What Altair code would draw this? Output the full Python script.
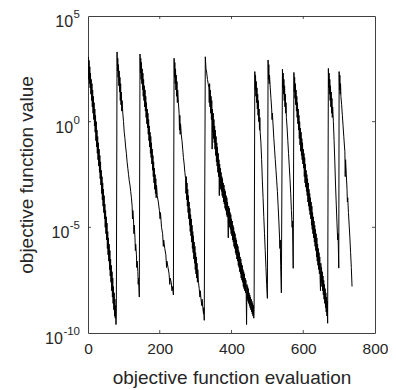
import altair as alt
import pandas as pd

# [evaluation, log10(objective value)] for each restart
seg1 = [[1,3.07],[2,2.0],[3,2.9],[4,1.8],[5,2.6],[6,1.6],[7,2.3],[8,1.3],[9,2.0],[10,1.0],[11,1.8],[12,0.7],[13,1.5],[14,0.4],[15,1.2],[16,0.1],[17,0.9],[18,-0.2],[19,0.6],[20,-0.5],[21,0.3],[22,-0.9],[23,0.0],[24,-1.2],[25,-0.4],[26,-1.5],[27,-0.7],[28,-1.8],[29,-1.0],[30,-2.1],[31,-1.3],[32,-2.4],[33,-1.6],[34,-2.7],[35,-1.9],[36,-3.0],[37,-2.3],[38,-3.4],[39,-2.6],[40,-3.7],[41,-2.9],[42,-4.0],[43,-3.2],[44,-4.3],[45,-3.5],[46,-4.6],[47,-3.9],[48,-5.0],[49,-4.2],[50,-5.3],[51,-4.5],[52,-5.6],[53,-4.8],[54,-6.0],[55,-5.2],[56,-6.3],[57,-5.5],[58,-6.6],[59,-5.8],[60,-7.0],[61,-6.1],[62,-7.3],[63,-6.5],[64,-7.6],[65,-6.8],[66,-8.0],[67,-7.1],[68,-8.3],[69,-7.4],[70,-8.6],[71,-7.8],[72,-8.9],[73,-8.1],[74,-9.2],[75,-8.4],[76,-9.3],[77,-8.7],[78,-9.6],[79,-9.0]]
seg2 = [[81,3.3],[82,2.4],[83,3.0],[84,2.1],[85,2.7],[86,1.7],[87,2.4],[88,1.4],[89,2.1],[90,1.0],[91,1.8],[92,0.8],[93,1.4],[94,0.5],[95,1.0],[97,0.4],[99,0.0],[101,-0.5],[103,-0.8],[105,-1.2],[107,-1.5],[109,-1.9],[111,-2.2],[113,-2.5],[115,-2.8],[117,-3.0],[119,-3.3],[121,-3.6],[123,-4.0],[124,-4.6],[125,-4.2],[127,-4.7],[128,-5.3],[129,-4.9],[131,-5.5],[132,-6.1],[133,-5.8],[135,-6.3],[136,-6.9],[137,-6.6],[139,-7.1],[140,-7.7],[141,-7.4],[143,-8.3]]
seg3 = [[145,3.2],[146,2.3],[147,3.0],[148,2.0],[149,2.8],[150,1.8],[151,2.5],[152,1.5],[153,2.3],[154,1.2],[155,2.0],[156,1.0],[157,1.7],[158,0.7],[159,1.5],[160,0.5],[161,1.2],[162,0.2],[163,0.9],[164,-0.1],[165,0.6],[166,-0.3],[167,0.4],[168,-0.6],[169,0.1],[170,-0.9],[171,-0.2],[172,-1.2],[173,-0.5],[174,-1.5],[175,-0.7],[176,-1.7],[177,-1.0],[178,-2.0],[179,-1.3],[180,-2.3],[181,-1.6],[182,-2.6],[183,-1.9],[184,-2.9],[185,-2.2],[186,-3.2],[187,-2.5],[188,-3.4],[189,-2.7],[190,-3.6],[191,-3.0],[193,-3.5],[196,-3.8],[199,-4.2],[201,-4.6],[202,-4.3],[205,-5.0],[208,-5.3],[210,-5.9],[211,-5.6],[214,-6.0],[217,-6.3],[219,-6.9],[220,-6.6],[223,-6.9],[226,-7.2],[228,-7.7],[229,-7.4],[232,-7.6],[234,-8.0],[236,-7.8],[238,-8.2]]
seg4 = [[240,3.0],[241,2.1],[242,2.8],[243,1.8],[244,2.5],[245,1.5],[246,2.2],[247,1.2],[248,1.9],[249,0.9],[250,1.5],[252,0.9],[254,0.4],[255,-0.4],[256,0.3],[257,-0.6],[258,-0.1],[260,-0.6],[262,-0.9],[264,-1.3],[266,-1.7],[268,-2.0],[270,-2.4],[272,-2.7],[273,-3.4],[274,-2.6],[275,-3.7],[276,-2.9],[277,-4.0],[278,-3.2],[279,-4.3],[280,-3.5],[281,-4.6],[282,-3.8],[283,-4.9],[284,-4.1],[285,-5.2],[286,-4.4],[287,-5.4],[288,-4.6],[289,-5.7],[290,-4.9],[291,-6.0],[292,-5.2],[293,-6.2],[294,-5.4],[295,-6.5],[296,-5.7],[297,-6.7],[298,-5.9],[299,-7.0],[300,-6.2],[301,-7.2],[302,-6.4],[303,-7.4],[304,-6.7],[305,-7.6],[306,-7.0],[308,-7.6],[310,-7.9],[312,-8.3],[313,-8.0],[315,-8.4],[317,-8.7],[318,-8.4],[320,-8.8],[322,-9.1],[323,-8.8],[324,-9.4]]
seg5 = [[327,3.07],[329,2.5],[331,2.3],[333,2.0],[335,1.8],[337,1.6],[338,0.9],[339,1.8],[340,0.7],[341,1.5],[342,0.4],[343,1.2],[344,0.1],[345,1.0],[346,-1.3],[347,0.6],[348,-0.5],[349,0.4],[350,-0.8],[351,0.1],[352,-1.0],[353,-0.2],[354,-1.3],[355,-0.4],[356,-1.6],[357,-0.7],[358,-1.9],[359,-1.0],[360,-2.1],[361,-1.2],[362,-2.4],[363,-1.5],[364,-2.6],[365,-1.8],[366,-3.5],[367,-2.0],[368,-3.0],[369,-2.2],[370,-3.2],[371,-2.4],[372,-3.3],[373,-2.6],[374,-3.5],[375,-2.7],[376,-3.6],[377,-2.9],[378,-3.8],[379,-3.0],[380,-3.9],[381,-3.2],[382,-4.1],[383,-3.3],[384,-4.2],[385,-3.5],[386,-4.4],[387,-3.6],[388,-4.5],[389,-3.8],[390,-4.6],[391,-5.5],[392,-4.0],[393,-4.8],[394,-4.1],[395,-5.0],[396,-4.3],[397,-5.1],[398,-4.4],[399,-5.3],[400,-4.6],[401,-5.4],[402,-4.7],[403,-5.6],[404,-4.9],[405,-5.7],[406,-5.0],[407,-5.9],[408,-5.2],[409,-6.0],[410,-5.3],[411,-6.2],[412,-5.5],[413,-6.3],[414,-5.6],[415,-6.5],[416,-5.8],[417,-6.6],[418,-5.9],[419,-6.8],[420,-6.1],[421,-6.9],[422,-6.2],[423,-7.1],[424,-6.4],[425,-7.2],[426,-6.5],[427,-7.4],[428,-6.7],[429,-7.5],[430,-6.8],[431,-7.6],[432,-7.0],[433,-7.8],[434,-7.1],[435,-7.9],[436,-7.2],[437,-8.0],[438,-7.4],[439,-8.1],[440,-7.5],[441,-8.2],[442,-9.6],[443,-7.7],[444,-8.4],[445,-7.8],[446,-8.5],[447,-7.9],[448,-8.6],[449,-8.1],[450,-8.7],[451,-8.2],[452,-8.8],[453,-8.3],[454,-8.9],[455,-8.4],[456,-9.0],[457,-8.5],[458,-9.1],[459,-8.6],[460,-9.2],[461,-8.7],[462,-9.3],[463,-8.9]]
seg6 = [[465,2.37],[466,1.5],[467,2.2],[468,1.2],[469,1.9],[470,0.9],[471,1.6],[472,0.6],[473,1.3],[474,0.3],[475,1.0],[476,0.0],[477,0.6],[478,-0.4],[479,0.2],[480,-0.5],[482,-1.0],[484,-1.8],[486,-2.8],[488,-3.6],[490,-4.5],[492,-5.3],[494,-6.1],[496,-6.9],[498,-7.7],[500,-8.36]]
seg7 = [[502,2.92],[503,2.0],[504,2.7],[505,1.8],[506,2.2],[508,1.6],[510,1.1],[512,0.6],[513,0.1],[514,0.4],[516,-0.2],[518,-0.8],[520,-1.3],[522,-1.8],[524,-2.3],[526,-2.8],[528,-3.3],[530,-4.0],[532,-4.7],[534,-5.5],[535,-6.0],[536,-5.6],[537,-6.8],[539,-8.1]]
seg8 = [[542,2.48],[543,1.6],[544,2.3],[545,1.3],[546,2.0],[547,1.0],[548,1.7],[549,0.7],[550,1.3],[551,0.4],[552,0.9],[553,0.2],[555,-0.3],[557,-0.9],[559,-1.5],[561,-2.1],[563,-2.7],[565,-3.4],[567,-4.2],[569,-5.0],[570,-4.7],[571,-5.9],[572,-6.94]]
seg9 = [[574,2.33],[575,1.4],[576,2.1],[577,1.1],[578,1.8],[579,0.8],[580,1.5],[581,0.5],[582,1.2],[583,0.2],[584,0.9],[585,-0.1],[586,0.6],[587,-0.4],[588,0.3],[589,-0.8],[590,0.0],[591,-1.1],[592,-0.3],[593,-1.4],[594,-0.5],[595,-1.6],[596,-0.8],[597,-1.8],[598,-1.0],[599,-2.0],[600,-1.3],[601,-2.2],[602,-1.5],[603,-2.6],[604,-1.7],[605,-2.9],[606,-2.0],[607,-3.1],[608,-2.3],[609,-3.3],[610,-2.5],[611,-3.5],[612,-2.7],[613,-3.8],[614,-2.9],[615,-4.0],[616,-3.2],[617,-4.2],[618,-3.4],[619,-4.4],[620,-3.6],[621,-4.6],[622,-3.8],[623,-4.9],[624,-4.0],[625,-5.1],[626,-4.3],[627,-5.3],[628,-4.5],[629,-5.5],[630,-4.7],[631,-5.7],[632,-4.9],[633,-5.9],[634,-5.1],[635,-6.1],[636,-5.3],[637,-6.4],[638,-5.5],[639,-6.6],[640,-5.8],[641,-6.8],[642,-6.0],[643,-7.0],[644,-6.2],[645,-7.2],[646,-6.4],[647,-7.4],[648,-8.0],[649,-6.7],[650,-7.6],[651,-6.9],[652,-7.8],[653,-7.1],[654,-8.0],[655,-7.3],[656,-8.2],[657,-7.5],[658,-8.4],[659,-7.7],[660,-8.6],[661,-7.9],[662,-8.8],[663,-8.1],[664,-9.0],[665,-8.3],[666,-9.2],[667,-8.5],[668,-9.54]]
seg10 = [[670,2.52],[671,1.6],[672,2.3],[673,1.3],[674,2.0],[675,1.0],[676,1.7],[677,0.7],[678,1.4],[679,0.4],[680,1.1],[681,0.2],[682,0.7],[684,0.0],[686,-0.9],[688,-1.9],[690,-3.0],[692,-3.9],[694,-4.8],[696,-5.6],[697,-5.3],[699,-6.93]]
seg11 = [[700,2.37],[701,1.5],[702,2.2],[703,1.3],[704,1.8],[705,1.2],[707,0.8],[709,0.3],[711,-0.2],[713,-0.7],[715,-1.2],[716,-1.4],[717,-2.6],[718,-1.8],[720,-2.5],[722,-3.2],[723,-3.8],[724,-3.6],[726,-4.3],[728,-4.9],[730,-5.5],[732,-6.2],[734,-6.9],[736,-7.8]]

x_ticks = [0, 200, 400, 600, 800]
y_ticks = [1e-10, 1e-5, 1, 1e5]
y_tick_exponents = ["-10", "-5", "0", "5"]

rows = []
for seg in [seg1, seg2, seg3, seg4, seg5, seg6, seg7, seg8, seg9, seg10, seg11]:
    for ev, lg in seg:
        rows.append({"x": ev, "y": 10.0 ** lg})
df = pd.DataFrame(rows)

W, H = 287, 317
FONT = "Liberation Sans"
AX = "#262626"
BASE_FS = 16
SUP_FS = 11.5

xscale = alt.Scale(domain=[0, 800], nice=False, zero=False)
yscale = alt.Scale(type="log", domain=[1e-10, 1e5], nice=False)

line = alt.Chart(df).mark_line(color="black", strokeWidth=1, clip=True).encode(
    x=alt.X("x:Q", scale=xscale, axis=alt.Axis(
        values=x_ticks, title="objective function evaluation", tickSize=0,
        domain=False, grid=False, labelFontSize=15.5, labelColor=AX, labelPadding=8,
        titleFontSize=19, titleFontWeight="normal", titleColor=AX, titlePadding=12,
        labelFont=FONT, titleFont=FONT, labelFlush=False)),
    y=alt.Y("y:Q", scale=yscale, axis=alt.Axis(
        values=y_ticks, title="objective function value", tickSize=0,
        domain=False, grid=False, labels=False, titleFontSize=19,
        titleFontWeight="normal", titleColor=AX, titlePadding=51, titleFont=FONT)),
    order="x:Q",
)

xt = pd.DataFrame({"x": x_ticks[1:-1]})
yt = pd.DataFrame({"y": y_ticks[1:-1]})

xb = alt.Chart(xt).mark_rule(color=AX, strokeWidth=0.8).encode(
    x=alt.X("x:Q", scale=xscale), y=alt.value(H), y2=alt.value(H - 3))
xtop = alt.Chart(xt).mark_rule(color=AX, strokeWidth=0.8).encode(
    x=alt.X("x:Q", scale=xscale), y=alt.value(0), y2=alt.value(3))
yl = alt.Chart(yt).mark_rule(color=AX, strokeWidth=0.8).encode(
    y=alt.Y("y:Q", scale=yscale), x=alt.value(0), x2=alt.value(3))
yr = alt.Chart(yt).mark_rule(color=AX, strokeWidth=0.8).encode(
    y=alt.Y("y:Q", scale=yscale), x=alt.value(W), x2=alt.value(W - 3))

# y tick labels as "10" + raised exponent
label_layers = []
for val, ex in zip(y_ticks, y_tick_exponents):
    ld = pd.DataFrame({"y": [val], "base": ["10"], "sup": [ex]})
    sup_w = sum(0.333 * SUP_FS if c == "-" else 0.556 * SUP_FS for c in ex)
    sup_layer = alt.Chart(ld).mark_text(
        align="right", baseline="alphabetic", font=FONT, fontSize=SUP_FS,
        color=AX, dy=2).encode(
        y=alt.Y("y:Q", scale=yscale), x=alt.value(-8), text="sup:N")
    base_layer = alt.Chart(ld).mark_text(
        align="right", baseline="alphabetic", font=FONT, fontSize=BASE_FS,
        color=AX, dy=11).encode(
        y=alt.Y("y:Q", scale=yscale), x=alt.value(-8 - sup_w - 0.5), text="base:N")
    label_layers += [base_layer, sup_layer]

chart = alt.layer(line, xb, xtop, yl, yr, *label_layers).properties(
    width=W, height=H,
    autosize=alt.AutoSizeParams(type="none"),
    padding={"left": 80, "top": 8, "right": 13, "bottom": 58},
    background="white",
).configure_view(stroke="#404040", strokeWidth=1)

chart.save("out.html", embed_options={"renderer": "svg", "actions": False})
